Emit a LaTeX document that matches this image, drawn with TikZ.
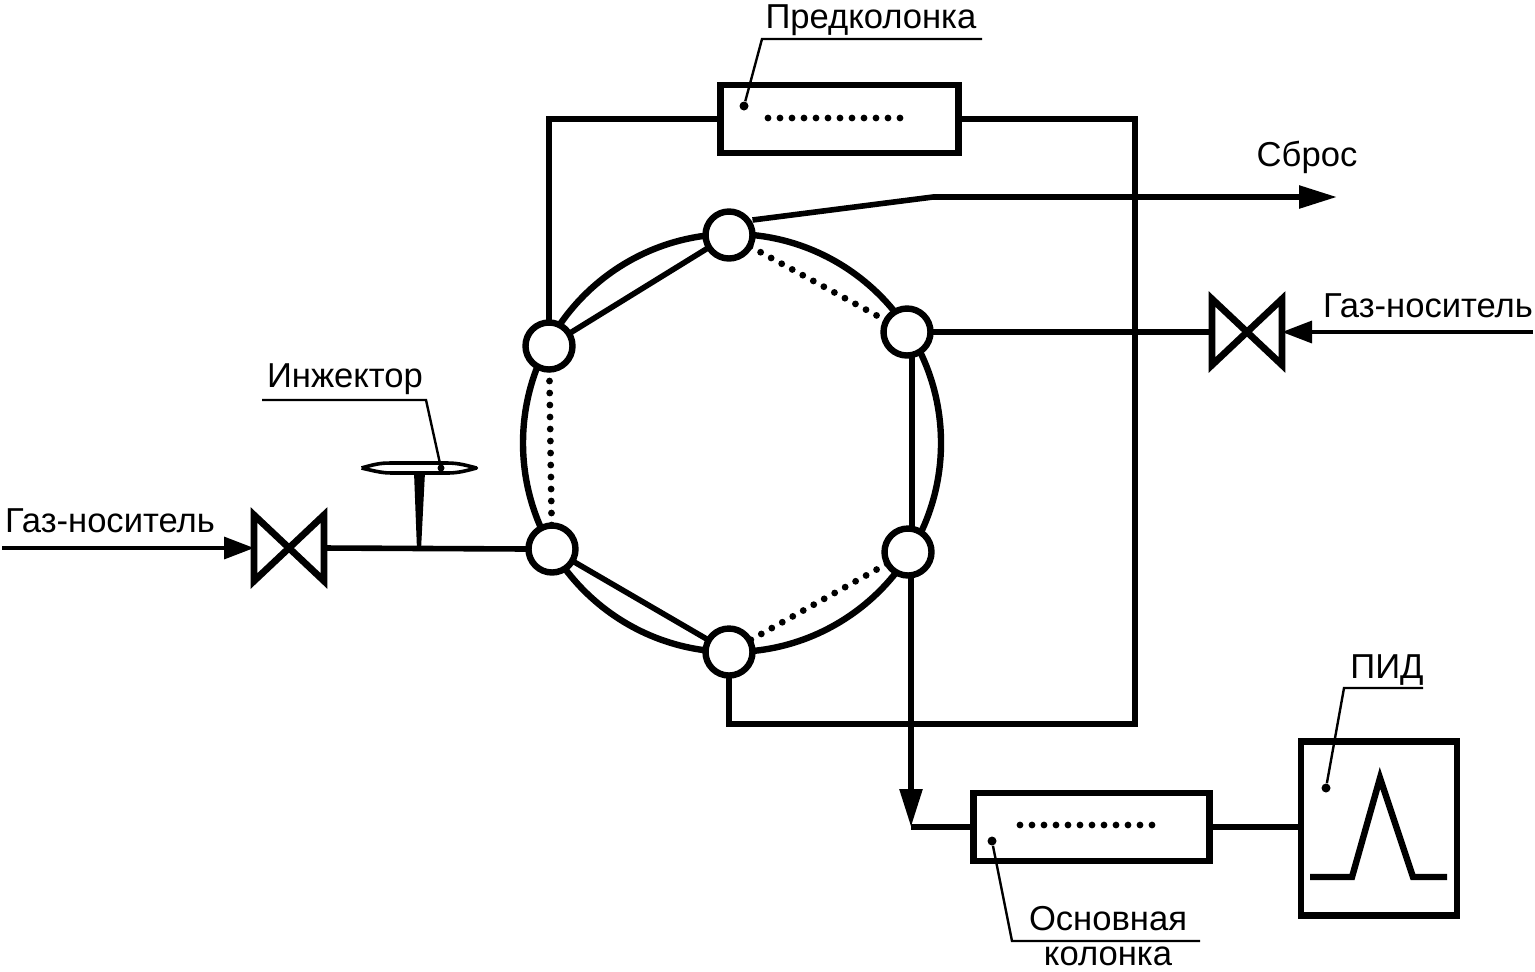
\documentclass[tikz,border=0pt]{standalone}
\usepackage{fontspec}
\setmainfont{Liberation Sans}
\usetikzlibrary{arrows.meta}
\tikzset{
  pipe/.style={line width=2.8pt},
  thinpipe/.style={line width=1.7pt},
  leader/.style={line width=1.2pt},
  dotline/.style={line width=3.4pt,line cap=round,dash pattern=on 0pt off 6pt},
  port/.style={circle,draw,fill=white,line width=3.2pt,inner sep=0pt,outer sep=0pt,minimum size=23.5pt},
  column/.style={rectangle,draw,fill=white,line width=3.2pt,inner sep=0pt,outer sep=0pt},
  valve/.style={rectangle,inner sep=0pt,outer sep=0pt,minimum width=35pt,minimum height=33pt},
  label/.style={inner sep=0pt,font=\fontsize{17.3}{20}\selectfont},
  tip/.style={-{Triangle[length=19pt,width=11pt]}},
  smalltip/.style={-{Triangle[length=15pt,width=11pt]}},
  knob/.style={circle,fill=black,inner sep=0pt,minimum size=4.5pt}
}
\begin{document}
\begin{tikzpicture}[x=0.5pt,y=-0.5pt]
\useasboundingbox (0,0) rectangle (1535,971);
% ring with ports
\node[circle,draw,line width=3.2pt,inner sep=0pt,minimum size=209pt] (ring) at (732,443) {};
\coordinate (a1) at (729,235);
\coordinate (a2) at (907,332);
\coordinate (a3) at (908,552);
\coordinate (a4) at (729,652);
\coordinate (a5) at (552,549);
\coordinate (a6) at (549,346);
\draw[pipe] (a6) -- (a1);
\draw[pipe] (a5) -- (a4);
\draw[dotline] (a1) -- (a2);
\draw[dotline] (a3) -- (a4);
\draw[dotline] (a5) -- (a6);
\draw[pipe] (912,332) -- (912,552);
\node[port] (p1) at (a1) {};
\node[port] (p2) at (a2) {};
\node[port] (p3) at (a3) {};
\node[port] (p4) at (a4) {};
\node[port] (p5) at (a5) {};
\node[port] (p6) at (a6) {};
% columns and detector
\node[column,minimum width=119pt,minimum height=34pt] (pre) at (839.5,119) {};
\node[column,minimum width=118pt,minimum height=34pt] (main) at (1091.5,827) {};
\node[column,minimum width=78pt,minimum height=87pt] (pid) at (1379,828.5) {};
\node[valve] (vl) at (289,548) {};
\node[valve] (vr) at (1247,332) {};
\coordinate (gl) at (2,548);
\coordinate (gr) at (1533,332);
\coordinate (out) at (1337,197);
\coordinate (bend) at (933,197);
\coordinate (tee) at (911,827);
\coordinate (c2) at (1135,119);
\coordinate (c3) at (1135,724);
% piping
\draw[pipe] (p6.north) |- (pre.west);
\draw[pipe] (pre.east) -- (c2) -- (c3) -| (p4.south);
\draw[pipe,tip] (p1.east |- 220,220) -- (bend) -- (out);
\draw[pipe] (p2.east) -- (vr.west);
\draw[pipe] (vl.east) -- (p5.west);
\draw[thinpipe,smalltip] (gl) -- (vl.west);
\draw[thinpipe,smalltip] (gr) -- (vr.east);
\draw[pipe,tip] (p3.south -| tee) -- (tee);
\draw[pipe] (tee) -- (main.west);
\draw[pipe] (main.east) -- (main.east -| pid.west);
% valves
\draw[line width=3.4pt,line join=miter] (vl.north west) -- (vl.south east) -- (vl.north east) -- (vl.south west) -- cycle;
\draw[line width=3.4pt,line join=miter] (vr.north west) -- (vr.south east) -- (vr.north east) -- (vr.south west) -- cycle;
% injector
\node[inner sep=0pt,minimum width=57pt,minimum height=6pt] (inj) at (419,468) {};
\draw[line width=1.8pt,line join=round] (inj.west) .. controls (378,463) and (384,463) .. (392,463) -- (446,463) .. controls (456,463) and (462,464) .. (inj.east) .. controls (462,472) and (456,473) .. (446,473) -- (392,473) .. controls (384,473) and (378,472) .. (inj.west);
\fill (414,472) -- (425,472) -- (421,550) -- (417,550) -- cycle;
% peak
\draw[line width=3.2pt] (1310,877) -- (1352,877) -- (1380,778) -- (1413,877) -- (1447,877);
% dots inside columns
\draw[dotline] (768,118) -- (900,118);
\draw[dotline] (1020,825) -- (1152,825);
% labels and leaders
\node[label] (l1) at (871,20) {Предколонка};
\node[knob] (k1) at (744,106) {};
\draw[leader] (982,39) -- (762,39) -- (k1);
\node[label] (l2) at (1307,157) {Сброс};
\node[label] (l3) at (1428,306) {Газ-носитель};
\node[label] (l4) at (110,521) {Газ-носитель};
\node[label] (l5) at (345,379) {Инжектор};
\node[knob,minimum size=3.5pt] (k2) at (441,468) {};
\draw[leader] (262,400) -- (426,400) -- (k2);
\node[label] (l6) at (1387,670) {ПИД};
\node[knob] (k3) at (1326,788) {};
\draw[leader] (1423,688) -- (1344,688) -- (k3);
\node[label] (l7) at (1108,919) {Основная};
\node[label] (l8) at (1108,956) {колонка};
\node[knob] (k4) at (992,841) {};
\draw[leader] (1200,941) -- (1012,941) -- (k4);
\end{tikzpicture}
\end{document}
